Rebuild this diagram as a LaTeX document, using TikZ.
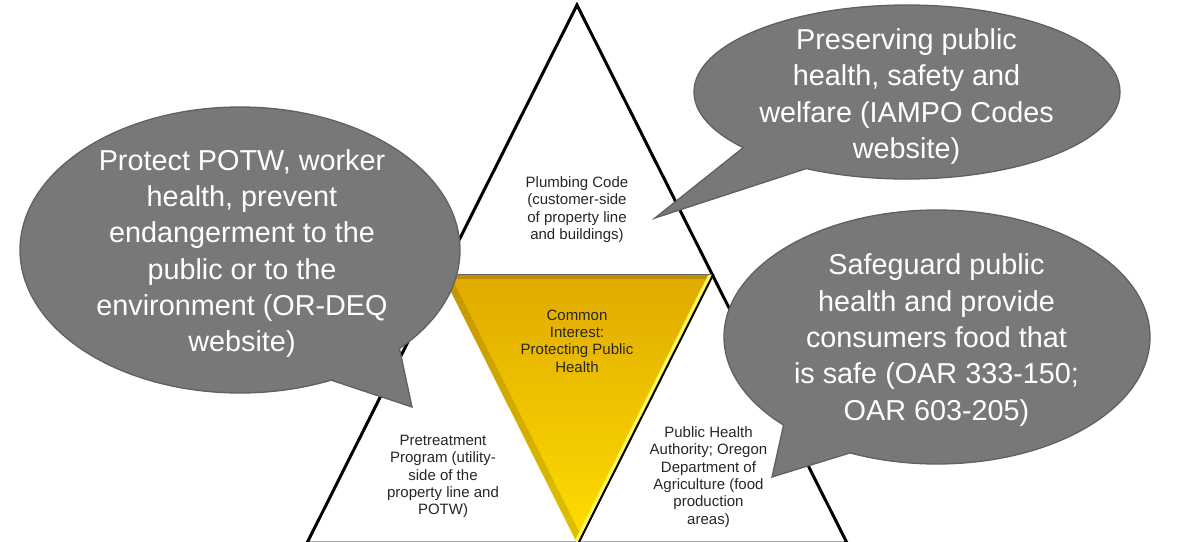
\documentclass[tikz,border=0pt]{standalone}
\usepackage{fontspec}
\setmainfont{Liberation Sans}
\usetikzlibrary{shapes.callouts,calc}

\definecolor{bubblegray}{RGB}{120,120,120}
\definecolor{bubbleedge}{RGB}{96,96,96}
\definecolor{goldtop}{RGB}{224,170,0}
\definecolor{goldbottom}{RGB}{255,221,0}
\definecolor{goldlight}{RGB}{255,250,90}

\begin{document}
\begin{tikzpicture}[x=1pt,y=-1pt,line join=miter,
  bubble/.style={ellipse callout,draw=bubbleedge,line width=1.3pt,fill=bubblegray,
    inner sep=0pt,callout pointer arc=22},
  bubble text/.style={align=center,text=white,inner sep=0pt,
    font=\fontsize{28.8}{36.3}\selectfont},
  area text/.style={align=center,text=black!85,inner sep=0pt,
    font=\fontsize{15}{17.4}\selectfont}]

  \useasboundingbox (0,0) rectangle (1181,541);

  % outer triangle
  \coordinate (top) at (577,5);
  \coordinate (left) at (307,543);
  \coordinate (right) at (847,543);
  \draw[line width=3pt] (left) -- (top) -- (right) -- cycle;

  % middle triangle, upside down
  \coordinate (A) at ($(top)!0.5!(left)$);
  \coordinate (B) at ($(top)!0.5!(right)$);
  \coordinate (C) at ($(left)!0.5!(right)$);
  \shade[top color=goldtop,bottom color=goldbottom] (A) -- (B) -- (C) -- cycle;
  \begin{scope}
    \clip (A) -- (B) -- (C) -- cycle;
    \draw[black,opacity=0.12,line width=14pt] (A) -- (C);
    \draw[black,opacity=0.15,line width=9pt] (A) -- (B);
    \draw[goldlight,line width=6pt] (B) -- (C);
  \end{scope}
  \draw[line width=2pt] ([xshift=1.5pt]B) -- ([xshift=1.5pt]C);
  \draw[black!60,line width=1pt] (A) -- (B);

  \node[area text] (plumbing) at (577,209.5) {Plumbing Code\\(customer-side\\of property line\\and buildings)};
  \node[area text] (common) at (577,341) {Common\\Interest:\\Protecting Public\\Health};
  \node[area text] (pretreat) at (443,476.5) {Pretreatment\\Program (utility-\\side of the\\property line and\\POTW)};
  \node[area text] (health) at (708.5,477) {Public Health\\Authority; Oregon\\Department of\\Agriculture (food\\production\\areas)};

  % speech bubbles
  \node[bubble,minimum width=440pt,minimum height=286pt,
    callout absolute pointer={(412,407)}] (deq bubble) at (240,250) {};
  \node[bubble text] (deq) at (242,253.5) {Protect POTW, worker\\health, prevent\\endangerment to the\\public or to the\\environment (OR-DEQ\\website)};

  \node[bubble,minimum width=426pt,minimum height=174pt,
    callout absolute pointer={(655,218)}] (iampo bubble) at (907,92) {};
  \node[bubble text] (iampo) at (906.5,96.5) {Preserving public\\health, safety and\\welfare (IAMPO Codes\\website)};

  \node[bubble,minimum width=426pt,minimum height=254pt,
    callout absolute pointer={(772,477)}] (oar bubble) at (937,337) {};
  \node[bubble text] (oar) at (936.5,340) {Safeguard public\\health and provide\\consumers food that\\is safe (OAR 333-150;\\OAR 603-205)};
\end{tikzpicture}
\end{document}
